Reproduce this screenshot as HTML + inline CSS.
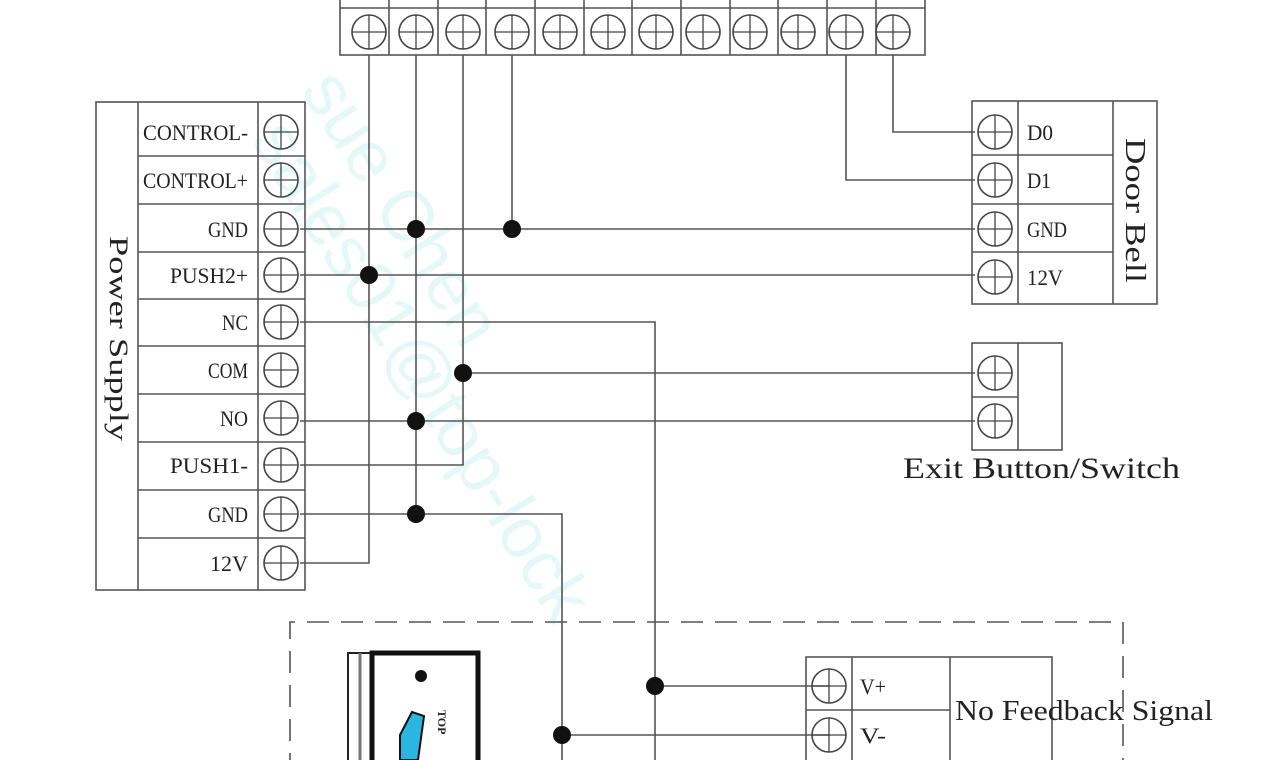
<!DOCTYPE html>
<html><head><meta charset="utf-8"><style>
html,body{margin:0;padding:0;background:#fff;}
svg{display:block;}
text{font-family:"Liberation Serif",serif;fill:#222;}
</style></head><body>
<svg width="1278" height="760" viewBox="0 0 1278 760" xmlns="http://www.w3.org/2000/svg">
<defs>
<g id="t"><circle r="17" fill="none" stroke="#444" stroke-width="1.6"/><line x1="-17" y1="0" x2="17" y2="0" stroke="#444" stroke-width="1.3"/><line x1="0" y1="-17" x2="0" y2="17" stroke="#444" stroke-width="1.3"/></g>
</defs>
<g opacity="0.12" fill="none">
<text x="0" y="0" transform="translate(300,90) rotate(58)" font-size="72" style="fill:#3cc;font-family:'Liberation Sans',sans-serif">sue Chen</text>
<text x="0" y="0" transform="translate(250,140) rotate(58)" font-size="72" style="fill:#3cc;font-family:'Liberation Sans',sans-serif">sales01@top-lock</text>
</g>
<g stroke="#555" stroke-width="1.6" fill="none">
<rect x="340" y="-10" width="585" height="65"/>
<line x1="340" y1="8" x2="925" y2="8"/>
<line x1="389" y1="-10" x2="389" y2="55"/><line x1="438" y1="-10" x2="438" y2="55"/><line x1="486" y1="-10" x2="486" y2="55"/><line x1="535" y1="-10" x2="535" y2="55"/><line x1="584" y1="-10" x2="584" y2="55"/><line x1="632" y1="-10" x2="632" y2="55"/><line x1="681" y1="-10" x2="681" y2="55"/><line x1="730" y1="-10" x2="730" y2="55"/><line x1="778" y1="-10" x2="778" y2="55"/><line x1="827" y1="-10" x2="827" y2="55"/><line x1="876" y1="-10" x2="876" y2="55"/>
<rect x="96" y="102" width="209" height="488"/>
<line x1="138" y1="102" x2="138" y2="590"/><line x1="258" y1="102" x2="258" y2="590"/>
<line x1="138" y1="156" x2="305" y2="156"/><line x1="138" y1="204" x2="305" y2="204"/><line x1="138" y1="252" x2="305" y2="252"/><line x1="138" y1="299" x2="305" y2="299"/><line x1="138" y1="346" x2="305" y2="346"/><line x1="138" y1="394" x2="305" y2="394"/><line x1="138" y1="442" x2="305" y2="442"/><line x1="138" y1="490" x2="305" y2="490"/><line x1="138" y1="538" x2="305" y2="538"/>
<rect x="972" y="101" width="185" height="203"/>
<line x1="1018" y1="101" x2="1018" y2="304"/><line x1="1113" y1="101" x2="1113" y2="304"/>
<line x1="972" y1="155" x2="1113" y2="155"/><line x1="972" y1="204" x2="1113" y2="204"/><line x1="972" y1="252" x2="1113" y2="252"/>
<rect x="972" y="343" width="90" height="107"/>
<line x1="1018" y1="343" x2="1018" y2="450"/><line x1="972" y1="397" x2="1018" y2="397"/>
<rect x="806" y="657" width="246" height="120"/>
<line x1="852" y1="657" x2="852" y2="777"/><line x1="950" y1="657" x2="950" y2="777"/>
<line x1="806" y1="710" x2="950" y2="710"/>
<path d="M290 775 V622 H1123 V775" stroke-dasharray="22 12"/>
<path d="M369 55 V563 H300"/>
<path d="M300 275 H975"/>
<path d="M416 55 V514"/>
<path d="M300 229 H975"/>
<path d="M300 421 H975"/>
<path d="M300 514 H562 V760"/>
<path d="M463 55 V465 H300"/>
<path d="M463 373 H975"/>
<path d="M512 55 V229"/>
<path d="M846 55 V180 H975"/>
<path d="M893 55 V132 H975"/>
<path d="M300 322 H655 V760"/>
<path d="M655 686 H830"/>
<path d="M562 735 H830"/>
</g>
<rect x="348" y="653" width="130" height="120" fill="none" stroke="#222" stroke-width="2"/>
<rect x="372" y="653" width="106" height="120" fill="none" stroke="#111" stroke-width="5"/>
<line x1="360" y1="653" x2="360" y2="773" stroke="#777" stroke-width="3"/>
<circle cx="421" cy="676" r="6" fill="#111"/>
<polygon points="400,735 412,712 424,716 418,760 400,760" fill="#2ab6e0" stroke="#111" stroke-width="2"/>
<text x="0" y="0" transform="translate(438,710) rotate(90)" font-size="12" font-weight="bold">TOP</text>
<g fill="#111">
<circle cx="369" cy="275" r="9"/><circle cx="416" cy="229" r="9"/><circle cx="512" cy="229" r="9"/><circle cx="463" cy="373" r="9"/><circle cx="416" cy="421" r="9"/><circle cx="416" cy="514" r="9"/><circle cx="655" cy="686" r="9"/><circle cx="562" cy="735" r="9"/>
</g>
<use href="#t" x="369" y="32"/><use href="#t" x="416" y="32"/><use href="#t" x="463" y="32"/><use href="#t" x="512" y="32"/><use href="#t" x="560" y="32"/><use href="#t" x="608" y="32"/><use href="#t" x="656" y="32"/><use href="#t" x="703" y="32"/><use href="#t" x="750" y="32"/><use href="#t" x="798" y="32"/><use href="#t" x="846" y="32"/><use href="#t" x="893" y="32"/>
<use href="#t" x="281" y="132"/><use href="#t" x="281" y="180"/><use href="#t" x="281" y="229"/><use href="#t" x="281" y="275"/><use href="#t" x="281" y="322"/><use href="#t" x="281" y="370"/><use href="#t" x="281" y="418"/><use href="#t" x="281" y="465"/><use href="#t" x="281" y="514"/><use href="#t" x="281" y="563"/>
<use href="#t" x="995" y="132"/><use href="#t" x="995" y="180"/><use href="#t" x="995" y="229"/><use href="#t" x="995" y="277"/>
<use href="#t" x="995" y="373"/><use href="#t" x="995" y="421"/>
<use href="#t" x="829" y="686"/><use href="#t" x="829" y="735"/>
<g font-size="22" text-anchor="start">
<text x="143" y="140" textLength="105" lengthAdjust="spacingAndGlyphs">CONTROL-</text>
<text x="143" y="188" textLength="105" lengthAdjust="spacingAndGlyphs">CONTROL+</text>
<text x="208" y="237" textLength="40" lengthAdjust="spacingAndGlyphs">GND</text>
<text x="170" y="283" textLength="78" lengthAdjust="spacingAndGlyphs">PUSH2+</text>
<text x="222" y="330" textLength="26" lengthAdjust="spacingAndGlyphs">NC</text>
<text x="208" y="378" textLength="40" lengthAdjust="spacingAndGlyphs">COM</text>
<text x="220" y="426" textLength="28" lengthAdjust="spacingAndGlyphs">NO</text>
<text x="170" y="473" textLength="78" lengthAdjust="spacingAndGlyphs">PUSH1-</text>
<text x="208" y="522" textLength="40" lengthAdjust="spacingAndGlyphs">GND</text>
<text x="210" y="571" textLength="38" lengthAdjust="spacingAndGlyphs">12V</text>
<text x="1027" y="140" textLength="26" lengthAdjust="spacingAndGlyphs">D0</text>
<text x="1027" y="188" textLength="24" lengthAdjust="spacingAndGlyphs">D1</text>
<text x="1027" y="237" textLength="40" lengthAdjust="spacingAndGlyphs">GND</text>
<text x="1027" y="285" textLength="36" lengthAdjust="spacingAndGlyphs">12V</text>
<text x="860" y="694" textLength="26" lengthAdjust="spacingAndGlyphs">V+</text>
<text x="860" y="743" textLength="26" lengthAdjust="spacingAndGlyphs">V-</text>
</g>
<text x="0" y="0" transform="translate(110,236) rotate(90)" font-size="26" textLength="205" lengthAdjust="spacingAndGlyphs">Power Supply</text>
<text x="0" y="0" transform="translate(1126,138) rotate(90)" font-size="28" textLength="145" lengthAdjust="spacingAndGlyphs">Door Bell</text>
<text x="903" y="478" font-size="30" textLength="277" lengthAdjust="spacingAndGlyphs">Exit Button/Switch</text>
<text x="955" y="720" font-size="28" textLength="258" lengthAdjust="spacingAndGlyphs">No Feedback Signal</text>
</svg>
</body></html>
